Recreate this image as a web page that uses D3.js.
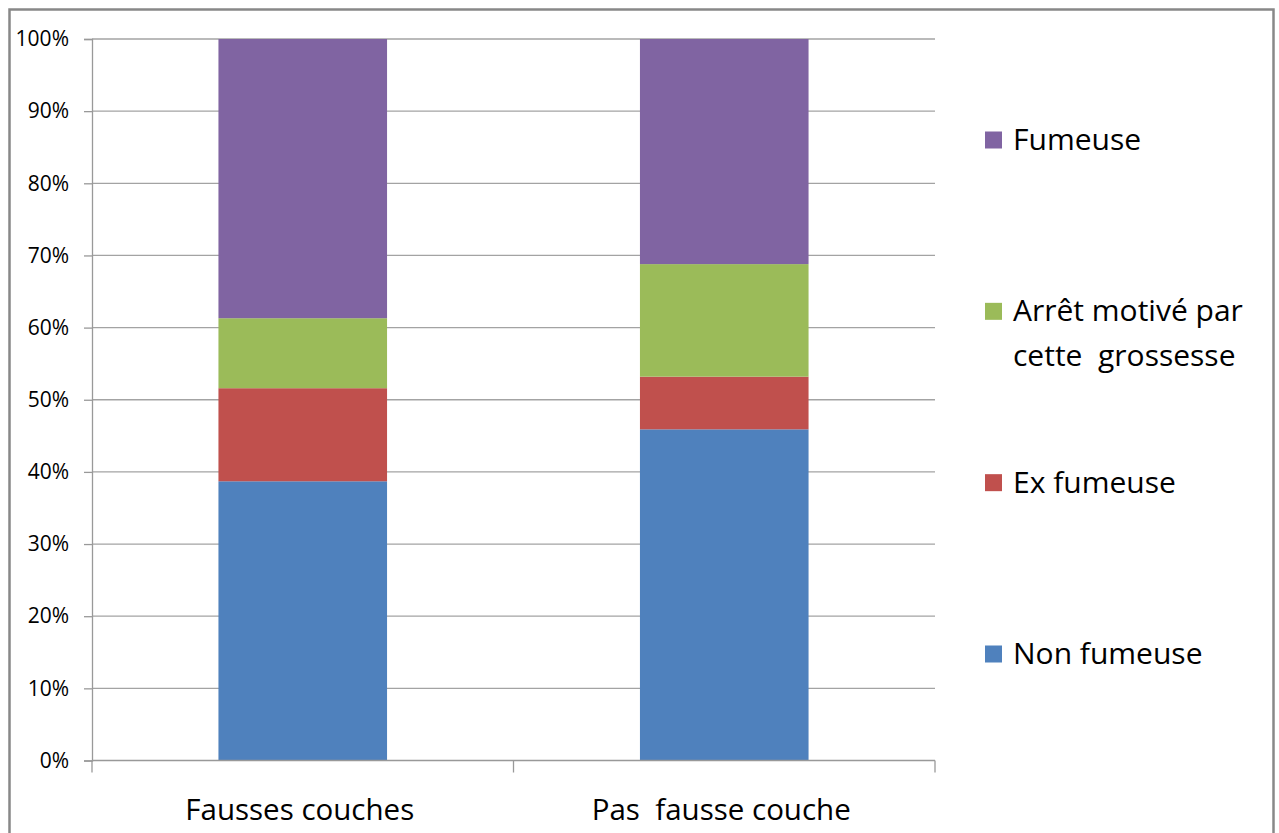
<!DOCTYPE html>
<html>
<head>
<meta charset="utf-8">
<script src="https://cdn.jsdelivr.net/npm/d3@7"></script>
<style>
  html, body { margin: 0; padding: 0; background: #fff; }
  svg { display: block; }
  text { font-family: "Open Sans", "Noto Sans", sans-serif; fill: #000; white-space: pre; }
</style>
</head>
<body>
<svg id="chart" width="1279" height="833"></svg>
<script>
// Smoking status by pregnancy outcome (percent of each group)
const categories = ["Fausses couches", "Pas  fausse couche"];
const seriesNames = ["Non fumeuse", "Ex fumeuse", "Arrêt motivé par cette  grossesse", "Fumeuse"];
const nonFumeuse = [38.7, 45.9];
const exFumeuse = [12.9, 7.3];
const arretGrossesse = [9.7, 15.6];
const fumeuse = [38.7, 31.2];
const yTicks = [0, 10, 20, 30, 40, 50, 60, 70, 80, 90, 100];
const legendOrder = ["Fumeuse", "Arrêt motivé par cette  grossesse", "Ex fumeuse", "Non fumeuse"];
const legendLines = {
  "Fumeuse": ["Fumeuse"],
  "Arrêt motivé par cette  grossesse": ["Arrêt motivé par", "cette  grossesse"],
  "Ex fumeuse": ["Ex fumeuse"],
  "Non fumeuse": ["Non fumeuse"]
};

const seriesValues = [nonFumeuse, exFumeuse, arretGrossesse, fumeuse];
const colors = ["#4F81BD", "#C0504D", "#9BBB59", "#8064A2"];

const svg = d3.select("#chart");

// Outer chart frame (bottom edge runs past the canvas)
svg.append("rect")
  .attr("x", 9.5).attr("y", 9.5)
  .attr("width", 1264).attr("height", 840)
  .attr("fill", "none")
  .attr("stroke", "#888")
  .attr("stroke-width", 2.5);

const plot = { left: 92, right: 935, top: 39, bottom: 760.5 };

const x = d3.scaleBand()
  .domain(categories)
  .range([plot.left, plot.right])
  .paddingInner(0.6)
  .paddingOuter(0.3);

const y = d3.scaleLinear()
  .domain([0, 100])
  .range([plot.bottom, plot.top]);

const color = d3.scaleOrdinal().domain(seriesNames).range(colors);

// Gridlines
svg.append("g")
  .selectAll("line")
  .data(yTicks.filter(d => d > 0))
  .join("line")
  .attr("x1", plot.left).attr("x2", plot.right)
  .attr("y1", d => y(d)).attr("y2", d => y(d))
  .attr("stroke", "#a3a3a3")
  .attr("stroke-width", 1.3);

// Stacked bars
const rows = categories.map((c, i) => {
  const r = { category: c };
  seriesNames.forEach((s, k) => { r[s] = seriesValues[k][i]; });
  return r;
});
const stacked = d3.stack().keys(seriesNames)(rows);

svg.append("g")
  .selectAll("g")
  .data(stacked)
  .join("g")
  .attr("fill", d => color(d.key))
  .selectAll("rect")
  .data(d => d)
  .join("rect")
  .attr("x", d => x(d.data.category))
  .attr("width", x.bandwidth())
  .attr("y", d => y(d[1]))
  .attr("height", d => y(d[0]) - y(d[1]));

// Y axis
const yAxis = svg.append("g")
  .attr("transform", `translate(${plot.left},0)`)
  .call(d3.axisLeft(y).tickValues(yTicks).tickFormat(d => d + "%").tickSize(8).tickPadding(15));
yAxis.select(".domain").attr("stroke", "#999").attr("stroke-width", 1.3);
yAxis.selectAll(".tick line").attr("stroke", "#999").attr("stroke-width", 1.3);
yAxis.selectAll(".tick text")
  .attr("font-size", 21)
  .attr("font-family", null)
  .attr("fill", "#111");

// X axis: boundary ticks between categories
const xBoundaries = [plot.left, (plot.left + plot.right) / 2, plot.right];
const xAxis = svg.append("g");
xAxis.append("line")
  .attr("x1", plot.left).attr("x2", plot.right)
  .attr("y1", plot.bottom).attr("y2", plot.bottom)
  .attr("stroke", "#999").attr("stroke-width", 1.3);
xAxis.selectAll("line.b")
  .data(xBoundaries)
  .join("line")
  .attr("class", "b")
  .attr("x1", d => d).attr("x2", d => d)
  .attr("y1", plot.bottom).attr("y2", plot.bottom + 12)
  .attr("stroke", "#999").attr("stroke-width", 1.3);
xAxis.selectAll("text")
  .data(categories)
  .join("text")
  .attr("x", d => x(d) + x.bandwidth() / 2 - 3)
  .attr("y", 820)
  .attr("text-anchor", "middle")
  .attr("font-size", 29.5)
  .text(d => d);

// Legend
const legendY = d3.scalePoint().domain(legendOrder).range([140, 654]);
const legend = svg.append("g")
  .selectAll("g")
  .data(legendOrder)
  .join("g")
  .attr("transform", d => `translate(985,${legendY(d)})`);
legend.append("rect")
  .attr("x", 0).attr("y", -8.5)
  .attr("width", 17).attr("height", 17)
  .attr("fill", d => color(d));
legend.each(function(d) {
  const g = d3.select(this);
  legendLines[d].forEach((line, i) => {
    g.append("text")
      .attr("x", 28)
      .attr("y", 10 + i * 45)
      .attr("font-size", 30)
      .text(line);
  });
});
</script>
</body>
</html>
